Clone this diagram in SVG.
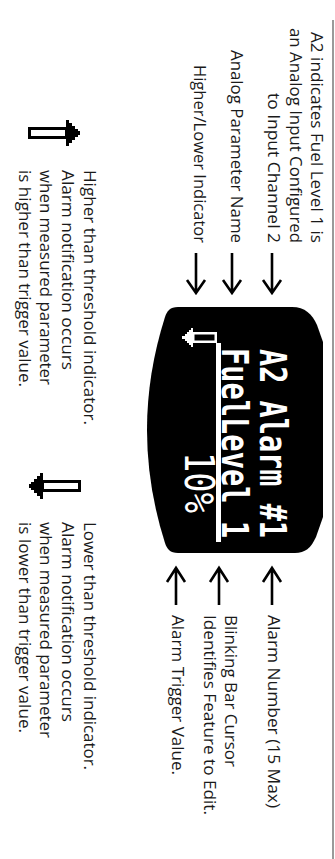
<svg xmlns="http://www.w3.org/2000/svg" width="335" height="859" viewBox="0 0 335 859">
<style>
.lbl{font-family:"Open Sans","Noto Sans",sans-serif;font-size:17px;fill:#1a1a1a}
.lcd{font-family:"DejaVu Sans Mono",monospace;fill:#fff;font-weight:bold}
.cn{stroke:#000;stroke-width:2.6;fill:none}
</style>
<rect width="335" height="859" fill="#fff"/>
<rect x="332" y="20" width="2" height="839" fill="#9a9a9a"/>
<g id="display">
<path d="M178,307 L292,307 C305,307 312,314 317,325 L323,342 L323,517 L316,537 C311,548 305,553 295,553 L178,553 C170,553 167,549 165,543 Q129,430 165,317 C167,311 170,307 178,307 Z" fill="#000"/>
<rect x="216" y="343" width="5" height="199" fill="#fff"/>
<rect x="193.25" y="333.25" width="22.5" height="8.5" fill="#000" stroke="#fff" stroke-width="2.5"/>
<polygon fill="#fff" points="193,328 191,328 191,330 189,330 189,332 187,332 187,334 185,334 185,336 182,336 182,339 185,339 185,341 187,341 187,343 189,343 189,345 191,345 191,347 193,347"/>
<g transform="translate(335,0) rotate(90)">
<text class="lcd" x="349" y="75" font-size="37" textLength="189" lengthAdjust="spacingAndGlyphs">A2 Alarm #1</text>
<text class="lcd" x="348" y="113" font-size="38" textLength="190" lengthAdjust="spacingAndGlyphs">FuelLevel 1</text>
<text class="lcd" x="452" y="150" font-size="41" textLength="61" lengthAdjust="spacingAndGlyphs" style="font-weight:normal">10%</text>
</g>
</g>
<g id="label-a2" transform="translate(335,0) rotate(90)">
<text class="lbl" x="32" y="24" textLength="211" lengthAdjust="spacingAndGlyphs">A2 indicates Fuel Level 1 is</text>
<text class="lbl" x="28" y="45" textLength="215" lengthAdjust="spacingAndGlyphs">an Analog Input Configured</text>
<text class="lbl" x="93" y="67" textLength="150" lengthAdjust="spacingAndGlyphs">to Input Channel 2</text>
</g>
<g id="label-param" transform="translate(335,0) rotate(90)">
<text class="lbl" x="50" y="104" textLength="193" lengthAdjust="spacingAndGlyphs">Analog Parameter Name</text>
</g>
<g id="label-hilo" transform="translate(335,0) rotate(90)">
<text class="lbl" x="65" y="141" textLength="178" lengthAdjust="spacingAndGlyphs">Higher/Lower Indicator</text>
</g>
<g id="label-alarmnum" transform="translate(335,0) rotate(90)">
<text class="lbl" x="615" y="67" textLength="193" lengthAdjust="spacingAndGlyphs">Alarm Number (15 Max)</text>
</g>
<g id="label-cursor" transform="translate(335,0) rotate(90)">
<text class="lbl" x="615" y="110" textLength="152" lengthAdjust="spacingAndGlyphs">Blinking Bar Cursor</text>
<text class="lbl" x="615" y="131" textLength="200" lengthAdjust="spacingAndGlyphs">Identifies Feature to Edit.</text>
</g>
<g id="label-trigger" transform="translate(335,0) rotate(90)">
<text class="lbl" x="615" y="163" textLength="160" lengthAdjust="spacingAndGlyphs">Alarm Trigger Value.</text>
</g>
<g id="higher-indicator">
<rect x="29.5" y="128.5" width="37" height="9" fill="#fff" stroke="#000" stroke-width="3"/>
<polygon fill="#000" points="66,120 69,120 69,123 72,123 72,126 75,126 75,129 78,129 78,131 80,131 80,135 78,135 78,137 75,137 75,140 72,140 72,143 69,143 69,146 66,146"/>
<g transform="translate(335,0) rotate(90)">
<text class="lbl" x="170" y="251" textLength="255" lengthAdjust="spacingAndGlyphs">Higher than threshold indicator.</text>
<text class="lbl" x="170" y="273" textLength="200" lengthAdjust="spacingAndGlyphs">Alarm notification occurs</text>
<text class="lbl" x="170" y="295" textLength="215" lengthAdjust="spacingAndGlyphs">when measured parameter</text>
<text class="lbl" x="170" y="316" textLength="217" lengthAdjust="spacingAndGlyphs">is higher than trigger value.</text>
</g>
</g>
<g id="lower-indicator">
<rect x="42.5" y="481.5" width="37" height="9" fill="#fff" stroke="#000" stroke-width="3"/>
<polygon fill="#000" points="43,473 40,473 40,476 37,476 37,479 34,479 34,482 31,482 31,484 29,484 29,488 31,488 31,490 34,490 34,493 37,493 37,496 40,496 40,499 43,499"/>
<g transform="translate(335,0) rotate(90)">
<text class="lbl" x="522" y="251" textLength="248" lengthAdjust="spacingAndGlyphs">Lower than threshold indicator.</text>
<text class="lbl" x="522" y="273" textLength="200" lengthAdjust="spacingAndGlyphs">Alarm notification occurs</text>
<text class="lbl" x="522" y="295" textLength="216" lengthAdjust="spacingAndGlyphs">when measured parameter</text>
<text class="lbl" x="522" y="316" textLength="211" lengthAdjust="spacingAndGlyphs">is lower than trigger value.</text>
</g>
</g>
<g id="connectors" class="cn">
<path d="M196,253 V292 M187,280 L196,293 L205,280"/>
<path d="M232,253 V292 M223,280 L232,293 L241,280"/>
<path d="M272,253 V292 M263,280 L272,293 L281,280"/>
<path d="M176,605 V569 M167,582 L176,568 L185,582"/>
<path d="M219,605 V569 M210,582 L219,568 L228,582"/>
<path d="M272,605 V569 M263,582 L272,568 L281,582"/>
</g>
</svg>
